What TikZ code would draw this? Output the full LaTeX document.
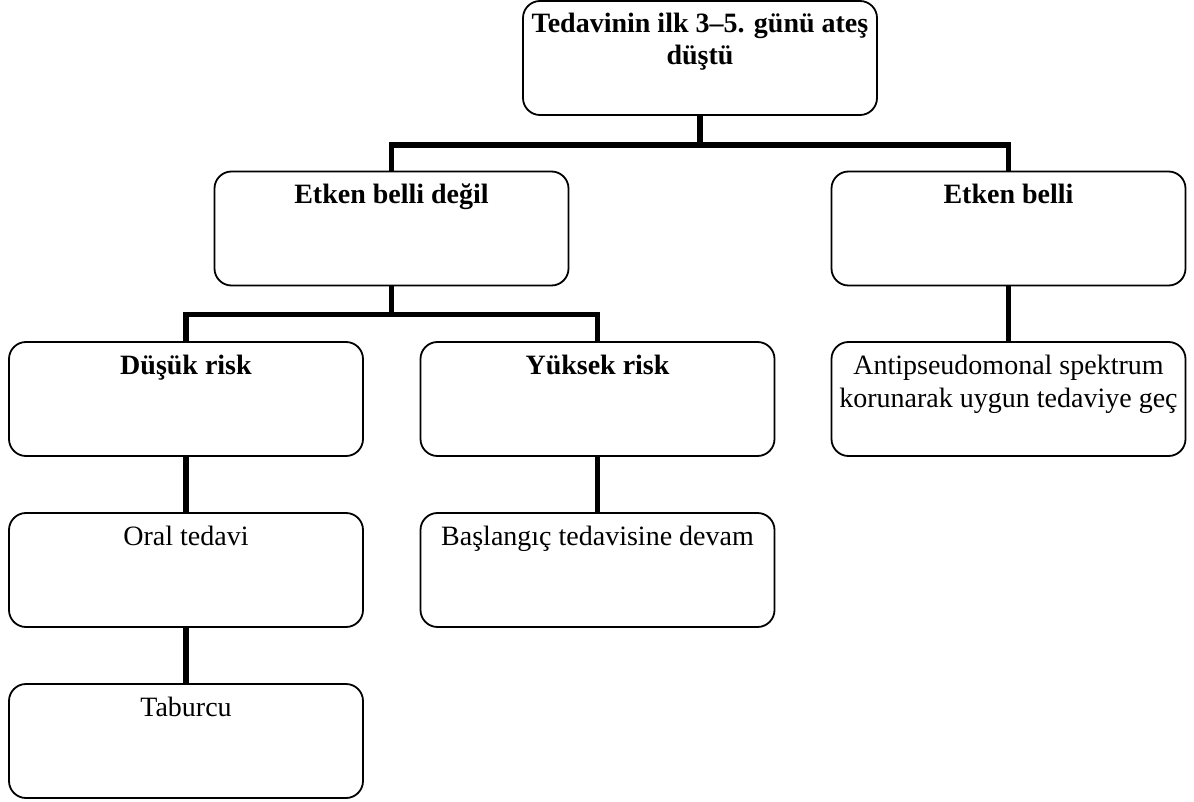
\documentclass[tikz,border=0pt]{standalone}
\usepackage{fontspec}
\setmainfont{Liberation Serif}
\usepackage{tikz}
\usetikzlibrary{calc}

\newcommand{\boxtext}[1]{\parbox[t][114pt][t]{354pt}{\centering\rule{0pt}{32pt}#1}}

\begin{document}
\begin{tikzpicture}[x=1pt,y=-1pt,
  box/.style={draw,line width=1.8pt,rounded corners=17pt,inner sep=0pt,
    font=\fontsize{28}{33}\selectfont},
  bbox/.style={box,font=\fontsize{28}{32}\selectfont\bfseries},
  link/.style={line width=5.5pt}]
\useasboundingbox (0,0) rectangle (1194,802);
\node[bbox] (top) at (700,58) {\boxtext{Tedavinin ilk 3--5. günü ateş\\düştü}};
\node[bbox] (ebd) at (391.5,228.5) {\boxtext{Etken belli değil}};
\node[bbox] (eb) at (1008.5,228.5) {\boxtext{Etken belli}};
\node[bbox] (dr) at (186,399) {\boxtext{Düşük risk}};
\node[bbox] (yr) at (597.5,399) {\boxtext{Yüksek risk}};
\node[box] (anti) at (1008.5,399) {\boxtext{Antipseudomonal spektrum\\korunarak uygun tedaviye geç}};
\node[box] (oral) at (186,570) {\boxtext{Oral tedavi}};
\node[box] (bas) at (597.5,570) {\boxtext{Başlangıç tedavisine devam}};
\node[box] (tab) at (186,741) {\boxtext{Taburcu}};
\draw[link] (top.south) -- ++(0,29) coordinate (j1);
\draw[link] (ebd.north) |- (j1) -| (eb.north);
\draw[link] (ebd.south) -- ++(0,28) coordinate (j2);
\draw[link] (dr.north) |- (j2) -| (yr.north);
\draw[link] (eb) -- (anti);
\draw[link] (dr) -- (oral);
\draw[link] (oral) -- (tab);
\draw[link] (yr) -- (bas);
\end{tikzpicture}
\end{document}
